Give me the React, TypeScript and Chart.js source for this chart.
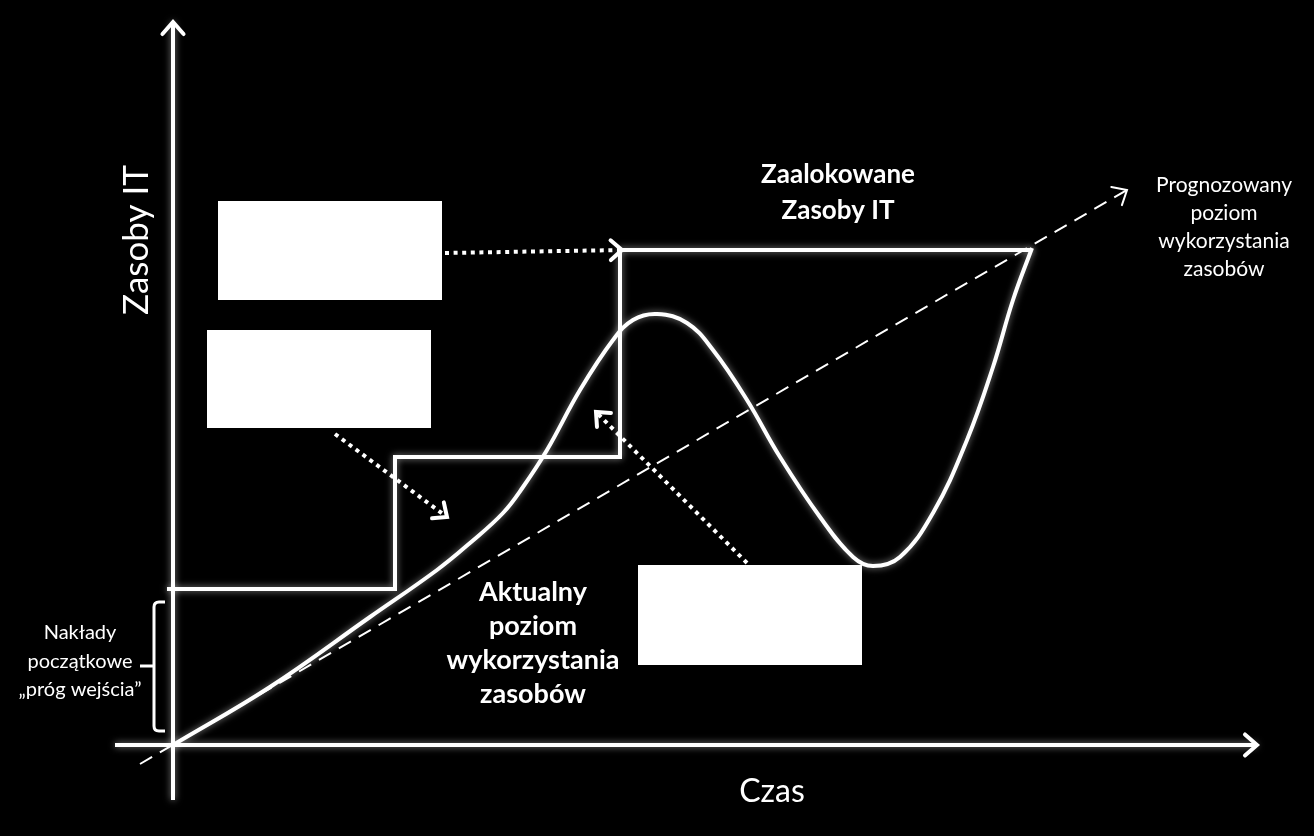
import { useEffect, useRef } from "react";
import { Chart, registerables } from "chart.js";
Chart.register(...registerables);

const W = 1314;
const H = 836;

// Value domain of the diagram (time → x, IT resources → y)
const X_MIN = -17.3;
const X_MAX = 114.1;
const Y_MIN = -9.1;
const Y_MAX = 74.5;

// Axes
const axisXTime = [-5.8, 108.4];
const axisXLevel = [0, 0];
const axisYTime = [0, 0];
const axisYLevel = [-5.5, 72.3];

// Allocated IT resources (step function, corner points)
const allocatedTime = [-0.6, 22.2, 22.2, 44.7, 44.7, 85.9];
const allocatedLevel = [15.6, 15.6, 28.8, 28.8, 49.5, 49.5];

// Actual usage of resources
const actualTime = [0, 9.7, 19.7, 26.4, 29.7, 33.0, 35.0, 37.4, 40.7, 44.0, 46.0, 48.4, 51.4, 54.0, 57.4, 60.7, 64.7, 68.0, 70.0, 72.7, 76.0, 79.4, 82.0, 84.0, 85.9];
const actualLevel = [0, 5.8, 12.8, 17.5, 20.2, 23.2, 25.8, 29.5, 35.5, 40.5, 42.5, 43.1, 42.2, 39.5, 34.5, 28.8, 22.8, 18.8, 17.9, 18.8, 23.2, 30.5, 37.8, 44.5, 49.7];

// Forecast usage of resources
const forecastTime = [-3.3, 95.4];
const forecastLevel = [-1.9, 55.5];

// Dotted pointer arrows (from → to)
const pointerATime = [27.2, 44.9];
const pointerALevel = [49.2, 49.5];
const pointerBTime = [16.2, 27.4];
const pointerBLevel = [31.1, 22.8];
const pointerCTime = [57.4, 42.3];
const pointerCLevel = [18.2, 33.3];

// White placeholder boxes [x0, y0, x1, y1]
const boxes = [
  [4.5, 54.4, 26.9, 44.5],
  [3.4, 41.5, 25.8, 31.7],
  [46.5, 18.0, 68.9, 8.0],
];

// Text labels
const labels = [
  { lines: ["Zaalokowane", "Zasoby IT"], x: 66.5, y: 57.0, gap: 36, size: 26, weight: "bold", rot: 0 },
  { lines: ["Aktualny", "poziom", "wykorzystania", "zasobów"], x: 36.0, y: 15.3, gap: 34, size: 27, weight: "bold", rot: 0 },
  { lines: ["Prognozowany", "poziom", "wykorzystania", "zasobów"], x: 105.1, y: 56.0, gap: 28, size: 21, weight: "normal", rot: 0 },
  { lines: ["Nakłady", "początkowe", "„próg wejścia”"], x: -9.3, y: 11.2, gap: 28.5, size: 20, weight: "normal", rot: 0 },
  { lines: ["Zasoby IT"], x: -3.6, y: 50.5, gap: 0, size: 35, weight: "normal", rot: -Math.PI / 2 },
  { lines: ["Czas"], x: 59.9, y: -4.7, gap: 0, size: 32, weight: "normal", rot: 0 },
];

// Brace for initial outlay
const brace = { x: -1.9, xEnd: -0.8, top: 14.3, bottom: 1.4, mid: 7.9, tick: -3.3 };

const pts = (xs: number[], ys: number[]) => xs.map((x, i) => ({ x, y: ys[i] }));

function chevron(ctx: CanvasRenderingContext2D, x0: number, y0: number, x1: number, y1: number, size: number, width: number) {
  const a = Math.atan2(y1 - y0, x1 - x0);
  const spread = 0.72;
  ctx.save();
  ctx.strokeStyle = "#ffffff";
  ctx.lineWidth = width;
  ctx.lineCap = "round";
  ctx.lineJoin = "miter";
  ctx.setLineDash([]);
  ctx.beginPath();
  ctx.moveTo(x1 - size * Math.cos(a - spread), y1 - size * Math.sin(a - spread));
  ctx.lineTo(x1, y1);
  ctx.lineTo(x1 - size * Math.cos(a + spread), y1 - size * Math.sin(a + spread));
  ctx.stroke();
  ctx.restore();
}

const diagramPlugin = {
  id: "diagram",
  beforeDatasetDraw(chart: any, args: any) {
    const ds = chart.data.datasets[args.index];
    if (ds.glow) {
      const ctx = chart.ctx;
      ctx.save();
      ctx.shadowColor = "rgba(255,255,255,0.55)";
      ctx.shadowBlur = 7;
    }
  },
  afterDatasetDraw(chart: any, args: any) {
    const ds = chart.data.datasets[args.index];
    if (ds.glow) chart.ctx.restore();
  },
  afterDatasetsDraw(chart: any) {
    const ctx: CanvasRenderingContext2D = chart.ctx;
    const xs = chart.scales.x;
    const ys = chart.scales.y;
    const px = (v: number) => xs.getPixelForValue(v);
    const py = (v: number) => ys.getPixelForValue(v);

    // arrowheads
    chart.data.datasets.forEach((ds: any, i: number) => {
      if (!ds.arrow) return;
      const meta = chart.getDatasetMeta(i);
      const n = meta.data.length;
      const a = meta.data[n - 2];
      const b = meta.data[n - 1];
      chevron(ctx, a.x, a.y, b.x, b.y, ds.arrow.size, ds.arrow.width);
    });

    // boxes
    ctx.save();
    ctx.fillStyle = "#ffffff";
    boxes.forEach(([x0, y0, x1, y1]) => {
      ctx.fillRect(px(x0), py(y0), px(x1) - px(x0), py(y1) - py(y0));
    });
    ctx.restore();

    // brace
    ctx.save();
    ctx.strokeStyle = "#ffffff";
    ctx.lineWidth = 3;
    ctx.lineCap = "butt";
    const bx = px(brace.x);
    const be = px(brace.xEnd);
    const bt = py(brace.top);
    const bb = py(brace.bottom);
    const bm = py(brace.mid);
    const r = 5;
    ctx.beginPath();
    ctx.moveTo(be, bt);
    ctx.lineTo(bx + r, bt);
    ctx.quadraticCurveTo(bx, bt, bx, bt + r);
    ctx.lineTo(bx, bb - r);
    ctx.quadraticCurveTo(bx, bb, bx + r, bb);
    ctx.lineTo(be, bb);
    ctx.stroke();
    ctx.beginPath();
    ctx.moveTo(bx, bm);
    ctx.lineTo(px(brace.tick), bm);
    ctx.stroke();
    ctx.restore();

    // labels
    labels.forEach((l) => {
      ctx.save();
      ctx.fillStyle = "#ffffff";
      ctx.font = `${l.weight} ${l.size}px Lato, "Open Sans", sans-serif`;
      ctx.textAlign = "center";
      ctx.textBaseline = "middle";
      ctx.translate(px(l.x), py(l.y));
      ctx.rotate(l.rot);
      l.lines.forEach((t, k) => ctx.fillText(t, 0, k * l.gap));
      ctx.restore();
    });
  },
};

export default function App() {
  const ref = useRef<HTMLCanvasElement | null>(null);
  useEffect(() => {
    if (!ref.current) return;
    const solid = { borderColor: "#ffffff", pointRadius: 0, fill: false, showLine: true };
    const chart = new Chart(ref.current, {
      type: "line",
      data: {
        datasets: [
          { ...solid, label: "axisX", data: pts(axisXTime, axisXLevel), borderWidth: 4, arrow: { size: 16, width: 4 }, glow: true } as any,
          { ...solid, label: "axisY", data: pts(axisYTime, axisYLevel), borderWidth: 4, arrow: { size: 16, width: 4 }, glow: true } as any,
          { ...solid, label: "Prognozowany poziom", data: pts(forecastTime, forecastLevel), borderWidth: 2, borderDash: [14, 9], arrow: { size: 16, width: 2 } } as any,
          { ...solid, label: "Zaalokowane Zasoby IT", data: pts(allocatedTime, allocatedLevel), borderWidth: 4, borderJoinStyle: "miter", glow: true } as any,
          { ...solid, label: "Aktualny poziom", data: pts(actualTime, actualLevel), borderWidth: 4, tension: 0.4, glow: true } as any,
          { ...solid, label: "pA", data: pts(pointerATime, pointerALevel), borderWidth: 4, borderDash: [4, 4.6], borderCapStyle: "butt", arrow: { size: 15, width: 4 } } as any,
          { ...solid, label: "pB", data: pts(pointerBTime, pointerBLevel), borderWidth: 4, borderDash: [4, 4.6], borderCapStyle: "butt", arrow: { size: 15, width: 4 } } as any,
          { ...solid, label: "pC", data: pts(pointerCTime, pointerCLevel), borderWidth: 4, borderDash: [4, 4.6], borderCapStyle: "butt", arrow: { size: 15, width: 4 } } as any,
        ],
      },
      options: {
        responsive: false,
        animation: false,
        devicePixelRatio: 1,
        layout: { padding: 0 },
        plugins: { legend: { display: false }, tooltip: { enabled: false }, title: { display: false } },
        scales: {
          x: { type: "linear", min: X_MIN, max: X_MAX, display: false },
          y: { type: "linear", min: Y_MIN, max: Y_MAX, display: false },
        },
      } as any,
      plugins: [diagramPlugin],
    });
    return () => chart.destroy();
  }, []);
  return (
    <div style={{ position: "fixed", left: 0, top: 0, width: W, height: H, background: "#000000" }}>
      <canvas ref={ref} width={W} height={H} style={{ display: "block", width: W, height: H }} />
    </div>
  );
}
